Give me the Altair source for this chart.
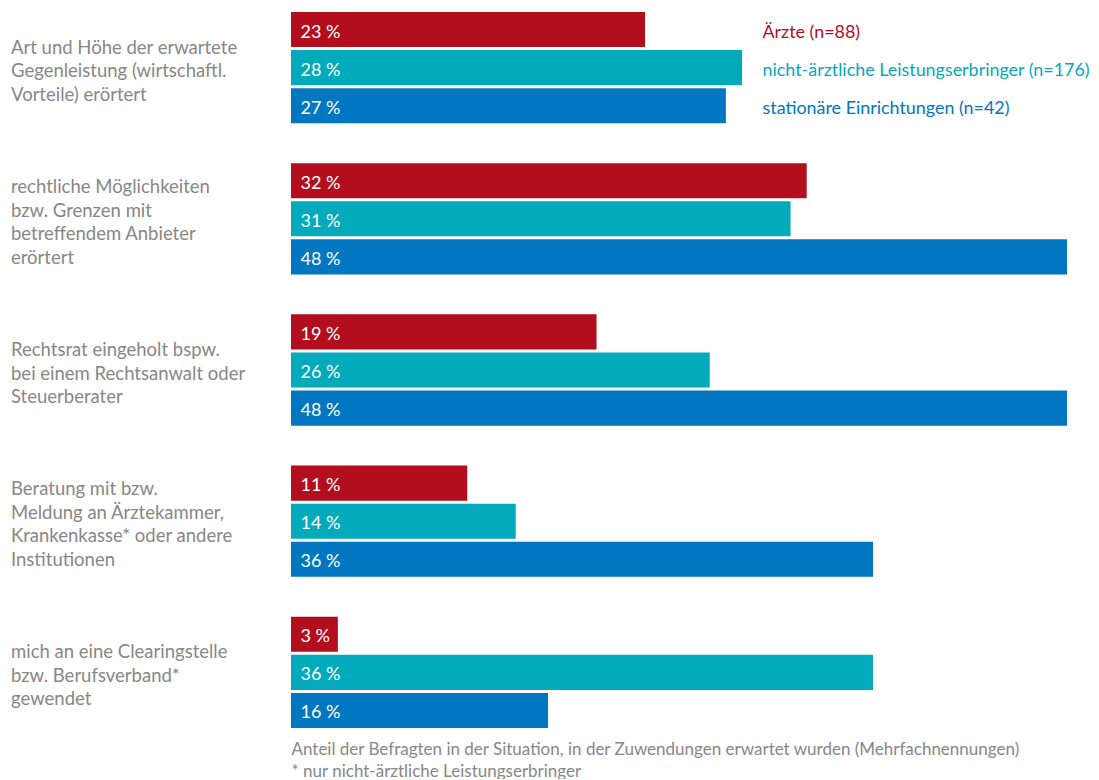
import altair as alt
import pandas as pd

# ---- data ----
categories = [
    "Art und Höhe der erwartete|Gegenleistung (wirtschaftl.|Vorteile) erörtert",
    "rechtliche Möglichkeiten|bzw. Grenzen mit|betreffendem Anbieter|erörtert",
    "Rechtsrat eingeholt bspw.|bei einem Rechtsanwalt oder|Steuerberater",
    "Beratung mit bzw.|Meldung an Ärztekammer,|Krankenkasse* oder andere|Institutionen",
    "mich an eine Clearingstelle|bzw. Berufsverband*|gewendet",
]
series = [
    "Ärzte (n=88)",
    "nicht-ärztliche Leistungserbringer (n=176)",
    "stationäre Einrichtungen (n=42)",
]
aerzte = [21.9, 31.9, 18.9, 10.9, 2.9]
nicht_aerztlich = [27.9, 30.9, 25.9, 13.9, 36.0]
stationaer = [26.9, 48.0, 48.0, 36.0, 15.9]
labels_aerzte = ["23 %", "32 %", "19 %", "11 %", "3 %"]
labels_nicht_aerztlich = ["28 %", "31 %", "26 %", "14 %", "36 %"]
labels_stationaer = ["27 %", "48 %", "48 %", "36 %", "16 %"]
colors = ["#B20E1E", "#03AABC", "#0077C0"]
footnote = [
    "Anteil der Befragten in der Situation, in der Zuwendungen erwartet wurden (Mehrfachnennungen)",
    "* nur nicht-ärztliche Leistungserbringer",
]

rows = []
for s, vals, labs in zip(series,
                         [aerzte, nicht_aerztlich, stationaer],
                         [labels_aerzte, labels_nicht_aerztlich, labels_stationaer]):
    for c, v, l in zip(categories, vals, labs):
        rows.append({"kategorie": c, "gruppe": s, "wert": v, "label": l})
df = pd.DataFrame(rows)
legend_df = pd.DataFrame({"kategorie": [categories[0]] * 3, "gruppe": series})

FONT = "Lato"
GRAY = "#878787"

color = alt.Color("gruppe:N", sort=series,
                  scale=alt.Scale(domain=series, range=colors), legend=None)
y = alt.Y("kategorie:N", sort=categories,
          scale=alt.Scale(paddingInner=0.264, paddingOuter=0),
          axis=alt.Axis(title=None, labelExpr="split(datum.label, '|')",
                        labelAlign="left", labelBaseline="middle",
                        labelOffset=alt.ExprRef(
                            "(1 - length(split(datum.label, '|'))) * 11.75 + 3.5"),
                        labelPadding=280.5, ticks=False, tickSize=0,
                        domain=False, labelFontSize=18.5, labelColor=GRAY,
                        labelLineHeight=23.5, labelLimit=0,
                        labelOverlap=False, labelFont=FONT))
yoff = alt.YOffset("gruppe:N", sort=series,
                   scale=alt.Scale(paddingInner=0.079, paddingOuter=0))
x = alt.X("wert:Q", scale=alt.Scale(domain=[0, 48], nice=False, zero=True),
          axis=alt.Axis(title=footnote, labels=False, ticks=False,
                        domain=False, grid=False, titleAnchor="start",
                        titleAlign="left", titleBaseline="top",
                        titleFontWeight="normal", titleFontSize=17,
                        titleColor=GRAY, titleFont=FONT, titlePadding=13,
                        titleLineHeight=22))

bars = alt.Chart(df).mark_bar().encode(x=x, y=y, yOffset=yoff, color=color)

values = alt.Chart(df).mark_text(
    align="left", baseline="middle", dy=3, fontSize=18,
    font=FONT, color="white"
).encode(x=alt.value(9.5), y=y, yOffset=yoff, text="label:N")

legend = alt.Chart(legend_df).mark_text(
    align="left", baseline="middle", dy=3.5, fontSize=17.9, font=FONT
).encode(x=alt.value(471.5), y=y, yOffset=yoff, text="gruppe:N", color=color)

chart = alt.layer(bars, values, legend).properties(
    width=776, height=716,
    padding={"left": 2, "top": 4, "right": 0, "bottom": 0},
).configure_view(stroke=None)

chart.save("out.html", embed_options={"renderer": "svg", "actions": False})
